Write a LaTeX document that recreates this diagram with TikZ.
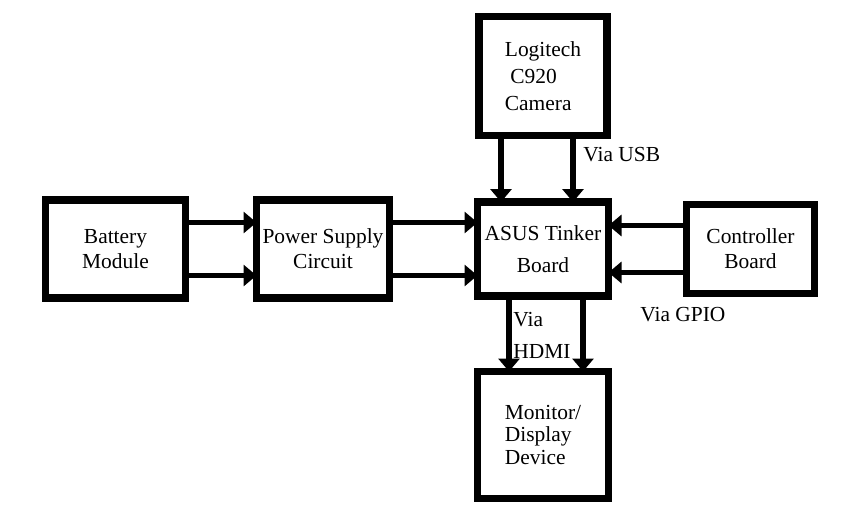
\documentclass[tikz,border=0pt]{standalone}
\usepackage{fontspec}
\setmainfont{Liberation Serif}
\usetikzlibrary{arrows.meta}

\begin{document}
\begin{tikzpicture}[
    blk/.style={
        rectangle, draw=black, line width=4pt, fill=white,
        font=\fontsize{12.2}{14.2}\selectfont,
        inner sep=2pt
    },
    via/.style={
        inner sep=0pt, anchor=west, align=left,
        font=\fontsize{12.2}{14.2}\selectfont
    },
    arr/.style={-{Triangle[width=0.42cm,length=0.26cm]}, line width=3pt, black, shorten >=-2pt}
]
\useasboundingbox (0,0) rectangle (17.1,10.18);

% --- Blocks ---
\node[blk, align=center, minimum width=2.8cm, minimum height=1.96cm] (batt) at (2.31,5.2) {
    Battery\\Module
};
\node[blk, align=center, minimum width=2.66cm, minimum height=1.96cm] (psu) at (6.46,5.2) {
    Power Supply\\Circuit
};
\node[blk, align=center, minimum width=2.62cm, minimum height=1.88cm] (asus) at (10.86,5.2) {
    ASUS Tinker\\[4pt]Board
};
\node[blk, align=left, minimum width=2.56cm, minimum height=2.38cm] (cam) at (10.86,8.66) {
    Logitech\\[1pt]~C920\\[1pt]Camera
};
\node[blk, align=center, minimum width=2.56cm, minimum height=1.78cm] (ctrl) at (15.01,5.2) {
    Controller\\Board
};
\node[blk, align=left, minimum width=2.62cm, minimum height=2.54cm] (mon) at (10.86,1.48) {
    Monitor/\\[-2pt]Display\\[-1pt]Device
};

% --- Labels ---
\node[via] (usb) at (11.66,7.08) {Via USB};
\node[via] (gpio) at (12.8,3.88) {Via GPIO};
\node[via] (hdmi) at (10.26,3.47) {Via\\[4pt]HDMI};

% --- Arrows ---
\draw[arr] ([yshift=0.53cm]batt.east) -- ([yshift=0.53cm]psu.west);
\draw[arr] ([yshift=-0.53cm]batt.east) -- ([yshift=-0.53cm]psu.west);
\draw[arr] ([yshift=0.53cm]psu.east) -- ([yshift=0.53cm]asus.west);
\draw[arr] ([yshift=-0.53cm]psu.east) -- ([yshift=-0.53cm]asus.west);
\draw[arr] ([xshift=-0.84cm]cam.south) -- ([xshift=-0.84cm]asus.north);
\draw[arr] ([xshift=0.6cm]cam.south) -- ([xshift=0.6cm]asus.north);
\draw[arr] ([yshift=0.47cm]ctrl.west) -- ([yshift=0.47cm]asus.east);
\draw[arr] ([yshift=-0.47cm]ctrl.west) -- ([yshift=-0.47cm]asus.east);
\draw[arr] ([xshift=-0.68cm]asus.south) -- ([xshift=-0.68cm]mon.north);
\draw[arr] ([xshift=0.8cm]asus.south) -- ([xshift=0.8cm]mon.north);

\end{tikzpicture}
\end{document}
